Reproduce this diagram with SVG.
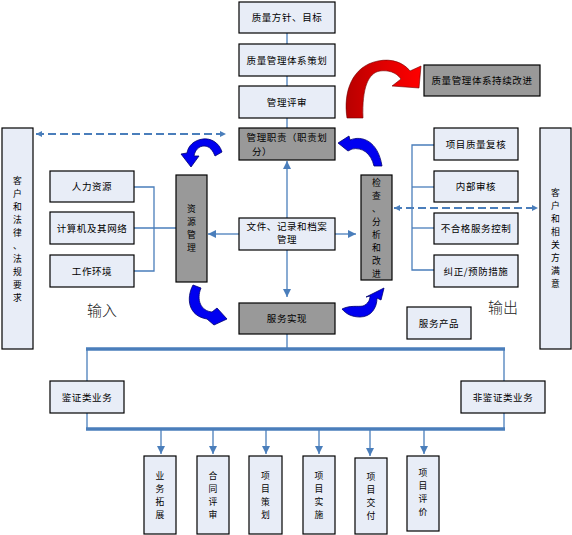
<svg xmlns="http://www.w3.org/2000/svg" width="572" height="535" viewBox="0 0 572 535">
<defs>
<style>
.lb{fill:#e8edf7;stroke:#000;stroke-width:1.2}
.gb{fill:#999999;stroke:#000;stroke-width:1.2}
.t{font-family:"Noto Sans CJK SC","Liberation Sans",sans-serif;font-size:9.5px;fill:#000;text-anchor:middle;letter-spacing:0.6px}
.v{font-family:"Noto Sans CJK SC","Liberation Sans",sans-serif;font-size:8.8px;fill:#000;text-anchor:middle}
.big{font-family:"Noto Sans CJK SC","Liberation Sans",sans-serif;font-size:15px;fill:#222;font-weight:300}
.ln{stroke:#4a7ebb;stroke-width:1.3;fill:none}
.bar{stroke:#4a7ebb;stroke-width:3.5;fill:none}
.ds{stroke:#4a7ebb;stroke-width:2;fill:none;stroke-dasharray:8,4}
.blue{fill:#0000f0;stroke:#000070;stroke-width:0.8}
</style>
<marker id="ah" viewBox="0 0 10 10" refX="10" refY="5" markerWidth="10" markerHeight="8" markerUnits="userSpaceOnUse" orient="auto-start-reverse"><path d="M0,0 L10,5 L0,10 z" fill="#4a7ebb"/></marker>
<marker id="as" viewBox="0 0 10 10" refX="10" refY="5" markerWidth="8" markerHeight="6" markerUnits="userSpaceOnUse" orient="auto-start-reverse"><path d="M0,0 L10,5 L0,10 z" fill="#4a7ebb"/></marker>
<linearGradient id="red" x1="0" y1="0" x2="1" y2="0"><stop offset="0" stop-color="#b80000"/><stop offset="0.5" stop-color="#e00000"/><stop offset="1" stop-color="#ff0000"/></linearGradient>
</defs>
<rect width="572" height="535" fill="#fff"/>

<g id="connectors">
<line class="ln" x1="287" y1="33" x2="287" y2="44"/>
<line class="ln" x1="287" y1="76" x2="287" y2="86"/>
<line class="ln" x1="287" y1="118" x2="287" y2="128"/>
<line class="ln" x1="287" y1="218" x2="287" y2="161" marker-end="url(#ah)"/>
<line class="ln" x1="239" y1="234" x2="208" y2="234" marker-end="url(#ah)"/>
<line class="ln" x1="335" y1="234" x2="356" y2="234" marker-end="url(#ah)"/>
<line class="ln" x1="287" y1="250" x2="287" y2="297" marker-end="url(#ah)"/>
<polyline class="ln" points="134,187 154,187 154,271 134,271"/>
<line class="ln" x1="134" y1="228" x2="176" y2="228"/>
<polyline class="ln" points="434,145 412,145 412,270 434,270"/>
<line class="ln" x1="412" y1="187" x2="434" y2="187"/>
<line class="ln" x1="412" y1="228" x2="434" y2="228"/>
<line class="ds" x1="36" y1="134" x2="226" y2="134" marker-start="url(#as)" marker-end="url(#as)"/>
<line class="ds" x1="394" y1="208" x2="485" y2="208" stroke-width="3"/>
<line class="ds" x1="394" y1="208" x2="538" y2="208" stroke-width="1.5" marker-start="url(#as)" marker-end="url(#as)"/>
<line class="ln" x1="287" y1="334" x2="287" y2="349"/>
<line class="bar" x1="86" y1="349" x2="505" y2="349"/>
<line class="ln" x1="87" y1="349" x2="87" y2="381"/>
<line class="ln" x1="504" y1="349" x2="504" y2="381"/>
<line class="ln" x1="87" y1="413" x2="87" y2="429"/>
<line class="ln" x1="504" y1="413" x2="504" y2="429"/>
<line class="bar" x1="86" y1="429" x2="505" y2="429"/>
<line class="ln" x1="161" y1="429" x2="161" y2="454" marker-end="url(#ah)"/>
<line class="ln" x1="213" y1="429" x2="213" y2="454" marker-end="url(#ah)"/>
<line class="ln" x1="266" y1="429" x2="266" y2="454" marker-end="url(#ah)"/>
<line class="ln" x1="319" y1="429" x2="319" y2="454" marker-end="url(#ah)"/>
<line class="ln" x1="370" y1="429" x2="370" y2="456" marker-end="url(#ah)"/>
<line class="ln" x1="424" y1="429" x2="424" y2="454" marker-end="url(#ah)"/>
</g>

<g id="cycle-arrows">
<path d="M347,118 C343,92 352,66 378,61 C392,58 404,63 410,71 L421,66 L419,88 L392,86 L401,79 C396,72 388,70 380,71 C368,73 362,88 363,118 Z" fill="url(#red)" stroke="#700000" stroke-width="0.6"/>
<path class="blue" d="M222,152 C219,142 210,138 203,139 C194,140 188,146 187,153 L181,154 L191,167 L199,156 L194,156 C195,150 199,146 204,146 C210,146 213,151 215,156 Z"/>
<path class="blue" d="M193,285 C186,298 188,316 207,319 L214,325 L227,319 L217,308 L212,312 C201,311 196,300 201,288 Z"/>
<path class="blue" d="M342,309 C350,305 358,307 363,306 C368,304 370,300 370,296 L366,297 L384,288 L381,300 L377,298 C377,308 371,317 360,317 C352,317 346,314 342,309 Z"/>
<path class="blue" d="M338,143 L349,136 L350,140 C362,135 378,141 382,166 L374,166 C371,153 362,147 352,149 L348,151 Z"/>
</g>

<g id="n-policy"><rect class="lb" x="239" y="2" width="96" height="31"/><text class="t" x="287" y="21">质量方针、目标</text></g>
<g id="n-plan"><rect class="lb" x="239" y="44" width="96" height="32"/><text class="t" x="287" y="63.5">质量管理体系策划</text></g>
<g id="n-review"><rect class="lb" x="239" y="86" width="96" height="32"/><text class="t" x="287" y="105.5">管理评审</text></g>
<g id="n-resp"><rect class="gb" x="239" y="128" width="96" height="32"/><text class="t" x="287" y="141">管理职责（职责划</text><text class="t" x="262" y="155">分）</text></g>
<g id="n-improve"><rect class="gb" x="424" y="65" width="116" height="31"/><text class="t" x="482" y="84">质量管理体系持续改进</text></g>

<g id="n-customer-left"><rect class="lb" x="2" y="128" width="31" height="221"/>
<text class="v"><tspan x="17.5" y="184">客</tspan><tspan x="17.5" y="197">户</tspan><tspan x="17.5" y="210">和</tspan><tspan x="17.5" y="223">法</tspan><tspan x="17.5" y="236">律</tspan><tspan x="17.5" y="249">、</tspan><tspan x="17.5" y="262">法</tspan><tspan x="17.5" y="275">规</tspan><tspan x="17.5" y="288">要</tspan><tspan x="17.5" y="301">求</tspan></text></g>

<g id="n-hr"><rect class="lb" x="50" y="171" width="84" height="31"/><text class="t" x="92" y="190">人力资源</text></g>
<g id="n-it"><rect class="lb" x="50" y="212" width="84" height="32"/><text class="t" x="92" y="231.5">计算机及其网络</text></g>
<g id="n-env"><rect class="lb" x="50" y="255" width="84" height="32"/><text class="t" x="92" y="274.5">工作环境</text></g>
<text class="big" x="87" y="316">输入</text>

<g id="n-resource"><rect class="gb" x="176" y="175" width="31" height="107"/>
<text class="v"><tspan x="191.5" y="212">资</tspan><tspan x="191.5" y="225">源</tspan><tspan x="191.5" y="238">管</tspan><tspan x="191.5" y="251">理</tspan></text></g>

<g id="n-docs"><rect class="lb" x="239" y="218" width="96" height="32"/><text class="t" x="287" y="229.5">文件、记录和档案</text><text class="t" x="287" y="243">管理</text></g>

<g id="n-check"><rect class="gb" x="361" y="175" width="31" height="105"/>
<text class="v"><tspan x="376.5" y="186">检</tspan><tspan x="376.5" y="199">查</tspan><tspan x="376.5" y="212">、</tspan><tspan x="376.5" y="225">分</tspan><tspan x="376.5" y="238">析</tspan><tspan x="376.5" y="251">和</tspan><tspan x="376.5" y="264">改</tspan><tspan x="376.5" y="277">进</tspan></text></g>

<g id="n-service"><rect class="gb" x="239" y="303" width="96" height="31"/><text class="t" x="287" y="322">服务实现</text></g>

<g id="n-qrecheck"><rect class="lb" x="434" y="128" width="84" height="32"/><text class="t" x="476" y="147.5">项目质量复核</text></g>
<g id="n-audit"><rect class="lb" x="434" y="171" width="84" height="31"/><text class="t" x="476" y="190">内部审核</text></g>
<g id="n-nonconf"><rect class="lb" x="434" y="213" width="84" height="31"/><text class="t" x="476" y="232">不合格服务控制</text></g>
<g id="n-corrective"><rect class="lb" x="434" y="255" width="84" height="32"/><text class="t" x="476" y="274.5">纠正/预防措施</text></g>
<text class="big" x="488" y="313">输出</text>
<g id="n-product"><rect class="lb" x="407" y="307" width="64" height="32"/><text class="t" x="439" y="326.5">服务产品</text></g>

<g id="n-customer-right"><rect class="lb" x="540" y="128" width="31" height="221"/>
<text class="v"><tspan x="555.5" y="196">客</tspan><tspan x="555.5" y="209">户</tspan><tspan x="555.5" y="222">和</tspan><tspan x="555.5" y="235">相</tspan><tspan x="555.5" y="248">关</tspan><tspan x="555.5" y="261">方</tspan><tspan x="555.5" y="274">满</tspan><tspan x="555.5" y="287">意</tspan></text></g>

<g id="n-assurance"><rect class="lb" x="50" y="381" width="74" height="32"/><text class="t" x="87" y="400.5">鉴证类业务</text></g>
<g id="n-nonassurance"><rect class="lb" x="461" y="381" width="84" height="32"/><text class="t" x="503" y="400.5">非鉴证类业务</text></g>

<g id="n-b1"><rect class="lb" x="144" y="456" width="32" height="78"/><text class="v"><tspan x="160" y="479">业</tspan><tspan x="160" y="492">务</tspan><tspan x="160" y="505">拓</tspan><tspan x="160" y="518">展</tspan></text></g>
<g id="n-b2"><rect class="lb" x="197" y="456" width="32" height="78"/><text class="v"><tspan x="213" y="479">合</tspan><tspan x="213" y="492">同</tspan><tspan x="213" y="505">评</tspan><tspan x="213" y="518">审</tspan></text></g>
<g id="n-b3"><rect class="lb" x="249" y="456" width="33" height="78"/><text class="v"><tspan x="265.5" y="479">项</tspan><tspan x="265.5" y="492">目</tspan><tspan x="265.5" y="505">策</tspan><tspan x="265.5" y="518">划</tspan></text></g>
<g id="n-b4"><rect class="lb" x="303" y="456" width="32" height="78"/><text class="v"><tspan x="319" y="479">项</tspan><tspan x="319" y="492">目</tspan><tspan x="319" y="505">实</tspan><tspan x="319" y="518">施</tspan></text></g>
<g id="n-b5"><rect class="lb" x="355" y="458" width="32" height="76"/><text class="v"><tspan x="371" y="480">项</tspan><tspan x="371" y="493">目</tspan><tspan x="371" y="506">交</tspan><tspan x="371" y="519">付</tspan></text></g>
<g id="n-b6"><rect class="lb" x="407" y="456" width="32" height="75"/><text class="v"><tspan x="423" y="476">项</tspan><tspan x="423" y="489">目</tspan><tspan x="423" y="502">评</tspan><tspan x="423" y="515">价</tspan></text></g>
</svg>
